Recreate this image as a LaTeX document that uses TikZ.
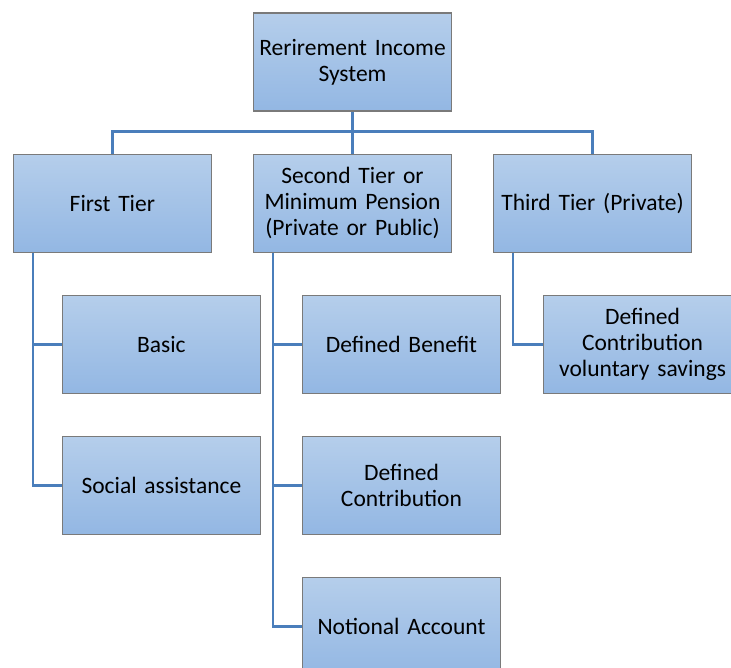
\documentclass[tikz,border=0pt]{standalone}
\usepackage{fontspec}
\setmainfont{Carlito}
\usetikzlibrary{positioning}

\begin{document}
\begin{tikzpicture}[x=1pt, y=1pt,
    tier/.style={rectangle, draw=boxedge, line width=1.1pt,
                 top color=boxtop, bottom color=boxbottom,
                 minimum width=198pt, minimum height=98pt,
                 text width=196pt, align=center, inner sep=0pt,
                 font=\fontsize{23.5}{26}\selectfont},
    link/.style={draw=linkblue, line width=2.6pt}
]
% Blaue Kaesten mit leichtem Verlauf, Verbinder in kraeftigem Blau
\definecolor{boxtop}{HTML}{B5CEEB}
\definecolor{boxbottom}{HTML}{93B7E3}
\definecolor{boxedge}{HTML}{7A7A7A}
\definecolor{linkblue}{HTML}{4A7EBB}

\useasboundingbox (0,0) rectangle (731,-667);
\clip (0,0) rectangle (731,-667);

\node[tier] (root) at (352.5,-62) {Rerirement Income\\System};

\node[tier, below=42pt of root] (second) {Second Tier or\\Minimum Pension\\(Private or Public)};
\node[tier, left=41pt of second] (first) {First Tier};
\node[tier, right=41pt of second] (third) {Third Tier (Private)};

\node[tier, below=42pt of first, xshift=49pt] (basic) {Basic};
\node[tier, below=42pt of basic] (social) {Social assistance};

\node[tier, below=42pt of second, xshift=49pt] (benefit) {Defined Benefit};
\node[tier, below=42pt of benefit] (contrib) {Defined\\Contribution};
\node[tier, below=42pt of contrib] (notional) {Notional Account};

\node[tier, below=42pt of third, xshift=50pt] (voluntary) {Defined\\Contribution\\voluntary savings};

% Verzweigung unter dem Wurzelknoten
\draw[link] (root.south) -- (second.north);
\draw[link] (root.south) ++(0,-20) -| (first.north);
\draw[link] (root.south) ++(0,-20) -| (third.north);

% Seitenlinien zu den Unterpunkten
\draw[link] ([xshift=20pt]first.south west) |- (basic.west);
\draw[link] ([xshift=20pt]first.south west) |- (social.west);
\draw[link] ([xshift=20pt]second.south west) |- (benefit.west);
\draw[link] ([xshift=20pt]second.south west) |- (contrib.west);
\draw[link] ([xshift=20pt]second.south west) |- (notional.west);
\draw[link] ([xshift=20pt]third.south west) |- (voluntary.west);
\end{tikzpicture}
\end{document}
